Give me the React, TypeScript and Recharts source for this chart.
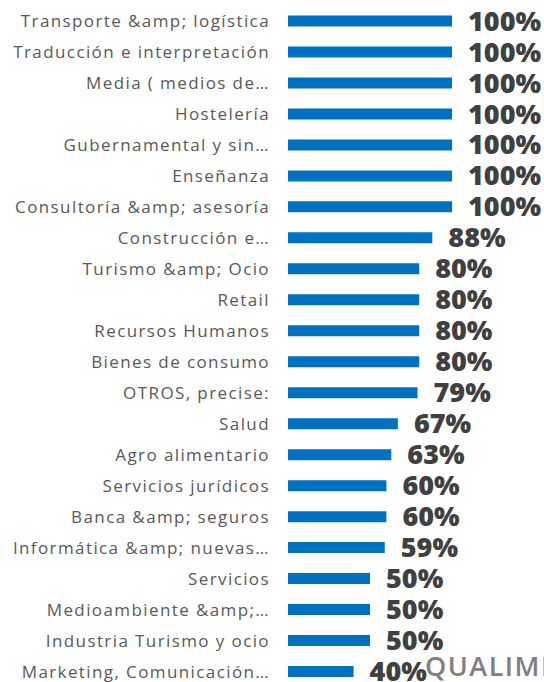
import { BarChart, Bar, XAxis, YAxis, LabelList } from 'recharts';

const sectors = [
  'Transporte &amp; logística',
  'Traducción e interpretación',
  'Media ( medios de…',
  'Hostelería',
  'Gubernamental y sin…',
  'Enseñanza',
  'Consultoría &amp; asesoría',
  'Construcción e…',
  'Turismo &amp; Ocio',
  'Retail',
  'Recursos Humanos',
  'Bienes de consumo',
  'OTROS, precise:',
  'Salud',
  'Agro alimentario',
  'Servicios jurídicos',
  'Banca &amp; seguros',
  'Informática &amp; nuevas…',
  'Servicios',
  'Medioambiente &amp;…',
  'Industria Turismo y ocio',
  'Marketing, Comunicación…',
];

const shares = [100, 100, 100, 100, 100, 100, 100, 88, 80, 80, 80, 80, 79, 67, 63, 60, 60, 59, 50, 50, 50, 40];

const data = sectors.map((name, i) => ({ name, value: shares[i] }));

const FONT = '"Open Sans", sans-serif';

export default function App() {
  return (
    <div style={{ position: 'absolute', left: 0, top: 0, width: 544, height: 682, overflow: 'hidden', background: '#fff' }}>
      <BarChart
        width={544}
        height={687}
        data={data}
        layout="vertical"
        margin={{ top: 5.5, right: 92, bottom: 0, left: 0 }}
      >
        <XAxis type="number" domain={[0, 100]} hide />
        <YAxis
          type="category"
          dataKey="name"
          width={288}
          axisLine={false}
          tickLine={false}
          tickSize={0}
          tickMargin={18}
          interval={0}
          tick={{ fill: '#595959', fontSize: 17, fontFamily: FONT, letterSpacing: 1.4 }}
        />
        <Bar dataKey="value" fill="#0070C0" barSize={11} isAnimationActive={false}>
          <LabelList
            dataKey="value"
            position="right"
            offset={16}
            formatter={(v: number) => `${v}%`}
            style={{ fill: '#404040', fontSize: 27, fontWeight: 800, fontFamily: FONT }}
          />
        </Bar>
      </BarChart>
      <div
        style={{
          position: 'absolute',
          left: 425,
          top: 650,
          fontFamily: FONT,
          fontSize: 27,
          fontWeight: 600,
          color: '#808080',
          letterSpacing: 1.5,
          whiteSpace: 'nowrap',
          lineHeight: '32px',
        }}
      >
        QUALIME
      </div>
    </div>
  );
}
